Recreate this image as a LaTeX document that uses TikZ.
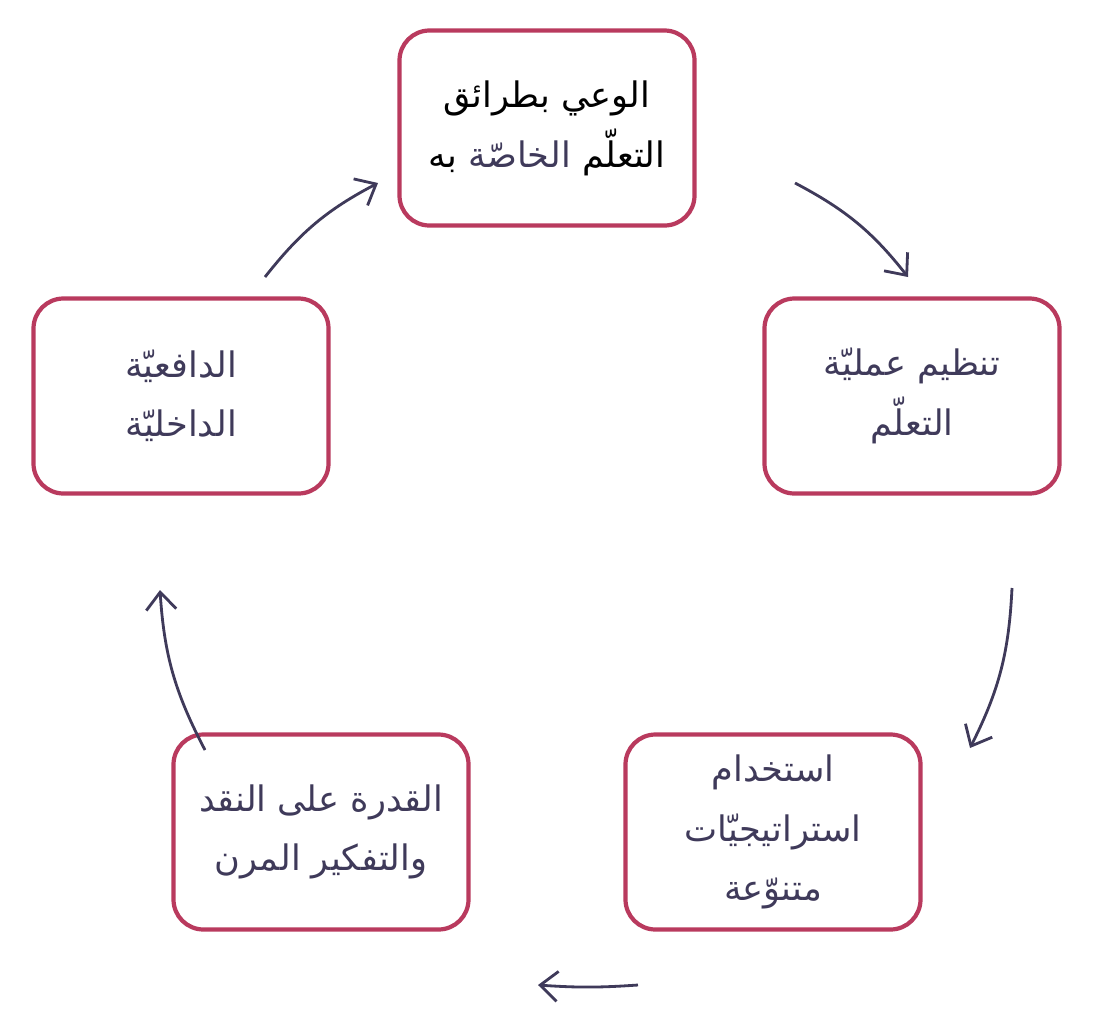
\documentclass[tikz,border=0pt]{standalone}
\usepackage{fontspec}
\TeXXeTstate=1
\newfontfamily\arabicfont[Script=Arabic]{DejaVu Sans}
\usetikzlibrary{positioning,arrows.meta}
\definecolor{rim}{HTML}{B93A5E}
\definecolor{ink}{HTML}{3F3A5A}
\begin{document}
\begin{tikzpicture}[
box/.style={draw=rim,line width=2.4pt,rounded corners=0.6cm,minimum width=5.9cm,minimum height=3.9cm,align=center,text=ink,font=\arabicfont\fontsize{20}{34}\selectfont},
link/.style={draw=ink,line width=1.6pt,-{Straight Barb[length=0.35cm,width=0.6cm,line width=1.6pt]}}]
\useasboundingbox (0,0) rectangle (22.1,-20.4);
% the five stages
\node (aware) [box,text=black] at (10.94,-2.56) {\beginR الوعي بطرائق\endR\\ \beginR به\endR\ {\color{ink}\beginR الخاصّة\endR}\ \beginR التعلّم\endR};
\node (regulate) [box] at (18.24,-7.92) {\beginR تنظيم عمليّة\endR\\ \beginR التعلّم\endR};
\node (strategies) [box] at (15.46,-16.64) {\beginR استخدام\endR\\ \beginR استراتيجيّات\endR\\ \beginR متنوّعة\endR};
\node (critical) [box] at (6.42,-16.64) {\beginR القدرة على النقد\endR\\ \beginR والتفكير المرن\endR};
\node (motive) [box] at (3.62,-7.92) {\beginR الدافعيّة\endR\\ \beginR الداخليّة\endR};
% arrow ends
\coordinate (a1) at (5.30,-5.54);  \coordinate (b1) at (7.56,-3.66);
\coordinate (a2) at (15.90,-3.66); \coordinate (b2) at (18.16,-5.54);
\coordinate (a3) at (20.24,-11.76); \coordinate (b3) at (19.40,-14.96);
\coordinate (a4) at (12.76,-19.70); \coordinate (b4) at (10.76,-19.70);
\coordinate (a5) at (4.10,-15.00); \coordinate (b5) at (3.20,-11.80);
\draw [link] (a1) to[bend left=12] (b1);
\draw [link] (a2) to[bend left=12] (b2);
\draw [link] (a3) to[bend left=12] (b3);
\draw [link] (a4) to[bend left=4] (b4);
\draw [link] (a5) to[bend left=12] (b5);
\end{tikzpicture}
\end{document}
